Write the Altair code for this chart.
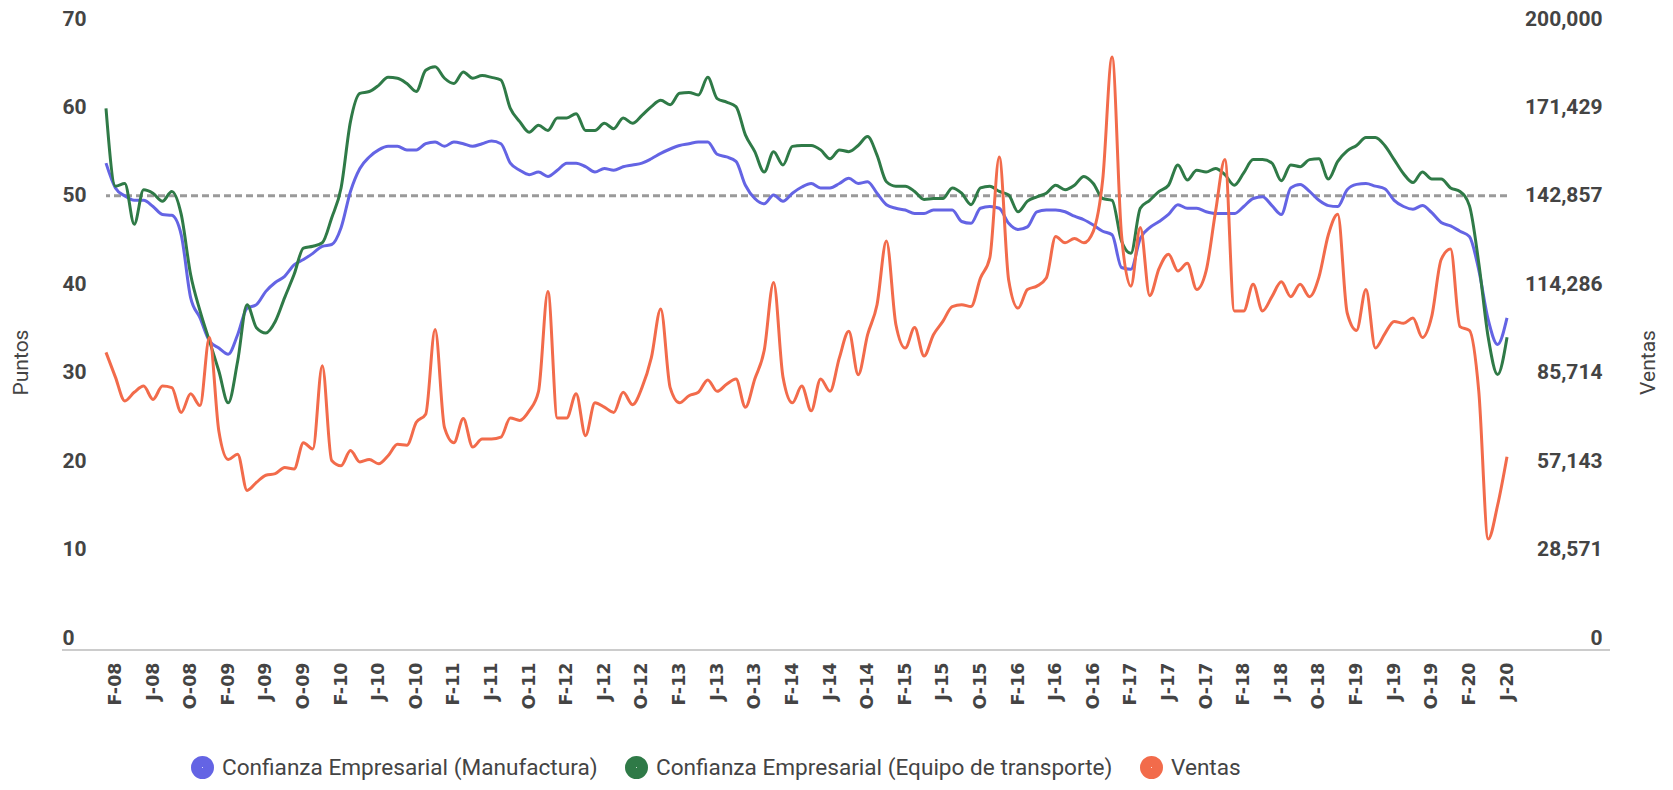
import altair as alt
import pandas as pd

# Monthly series, Jan-2008 .. Jun-2020 (150 months)
manufactura = [
    53.7, 50.9, 50.0, 49.5, 49.5, 48.8, 47.9, 47.8, 45.6, 38.5, 36.2, 33.6,
    32.8, 32.1, 34.3, 37.3, 37.7, 39.2, 40.2, 40.9, 42.2, 42.8, 43.5, 44.3,
    44.5, 46.4, 50.5, 53.1, 54.4, 55.2, 55.6, 55.6, 55.2, 55.2, 55.9, 56.1,
    55.6, 56.1, 55.9, 55.6, 55.9, 56.2, 55.9, 53.7, 52.9, 52.4, 52.7, 52.2,
    52.9, 53.7, 53.7, 53.3, 52.7, 53.1, 52.9, 53.3, 53.5, 53.7, 54.2, 54.8,
    55.3, 55.7, 55.9, 56.1, 56.1, 54.7, 54.4, 53.9, 51.2, 49.7, 49.1, 50.1,
    49.4, 50.3, 51.0, 51.4, 50.9, 50.9, 51.4, 52.0, 51.4, 51.6, 50.3, 49.0,
    48.6, 48.4, 48.0, 48.0, 48.4, 48.4, 48.4, 47.1, 46.9, 48.6, 48.8, 48.6,
    46.9, 46.2, 46.5, 48.2, 48.4, 48.4, 48.2, 47.7, 47.3, 46.7, 46.0, 45.6,
    41.9, 41.7, 45.2, 46.4, 47.1, 47.9, 49.0, 48.6, 48.6, 48.2, 48.0, 48.0,
    48.0, 48.8, 49.7, 49.9, 48.9, 47.9, 50.9, 51.3, 50.5, 49.5, 48.9, 48.8,
    50.7, 51.3, 51.4, 51.1, 50.8, 49.5, 48.8, 48.5, 48.9, 48.1, 47.0, 46.6,
    46.0, 45.4, 41.6, 36.0, 33.2, 36.2,
]
transporte = [
    59.9, 51.1, 51.4, 46.8, 50.7, 50.3, 49.4, 50.5, 47.9, 41.1, 37.0, 33.6,
    30.2, 26.6, 31.3, 37.7, 35.1, 34.5, 35.8, 38.5, 41.1, 44.1, 44.3, 44.7,
    47.5, 50.9, 58.4, 61.6, 61.8, 62.5, 63.4, 63.3, 62.7, 61.8, 64.2, 64.6,
    63.3, 62.7, 64.0, 63.3, 63.6, 63.4, 63.1, 59.9, 58.4, 57.2, 58.0, 57.4,
    58.8, 58.8, 59.3, 57.4, 57.4, 58.2, 57.6, 58.8, 58.2, 59.1, 60.1, 60.8,
    60.3, 61.6, 61.7, 61.4, 63.4, 61.0, 60.6, 60.1, 56.9, 55.0, 52.7, 55.0,
    53.5, 55.6, 55.7, 55.7, 55.2, 54.2, 55.2, 55.0, 55.7, 56.7, 54.6, 51.6,
    51.1, 51.1, 50.5, 49.6, 49.7, 49.7, 50.9, 50.3, 49.0, 50.9, 51.1, 50.5,
    50.1, 48.2, 49.4, 49.9, 50.3, 51.2, 50.7, 51.2, 52.2, 51.4, 49.7, 49.5,
    44.9, 43.5, 48.6, 49.5, 50.5, 51.2, 53.5, 51.8, 52.9, 52.7, 53.1, 52.4,
    51.2, 52.6, 54.1, 54.1, 53.7, 51.7, 53.5, 53.3, 54.1, 54.2, 51.9, 53.9,
    55.1, 55.7, 56.6, 56.6, 55.7, 54.1, 52.5, 51.5, 52.7, 51.9, 51.9, 50.9,
    50.5, 48.9, 42.4, 34.0, 29.8, 34.0,
]
ventas = [
    92300, 84300, 76600, 79400, 81400, 77100, 81400, 80900, 72900, 78900, 75100, 97100,
    66900, 57700, 59400, 47700, 50300, 52600, 53100, 55100, 54600, 63100, 61100, 88000,
    57400, 55700, 60600, 56900, 57700, 56300, 58900, 62600, 62300, 69700, 72300, 99700,
    68000, 63100, 70900, 61700, 64300, 64300, 64900, 71100, 70300, 73400, 79700, 112000,
    71100, 71100, 78900, 65400, 76000, 74600, 72900, 79400, 75400, 80900, 90600, 106300,
    80900, 76000, 78300, 79400, 83400, 79700, 82000, 83700, 74600, 83700, 92900, 114900,
    84300, 76000, 81400, 73400, 83700, 79700, 90600, 99100, 85100, 98000, 107700, 128300,
    101400, 93700, 100300, 91100, 98000, 102300, 107100, 107700, 107100, 116300, 122900, 155400,
    115700, 106600, 112600, 113700, 116300, 129700, 127700, 129100, 127700, 131400, 148000, 187700,
    130300, 113700, 132600, 110600, 119400, 124000, 118600, 121100, 112600, 118600, 137700, 154600,
    105700, 105700, 114300, 105700, 110300, 115100, 110300, 114300, 110300, 116600, 130300, 136900,
    105100, 99400, 112600, 93700, 98300, 102300, 101700, 103400, 97100, 104000, 122300, 125700,
    100600, 99400, 79700, 32000, 42900, 58600,
]
etiquetas = [
    "F-08", "J-08", "O-08", "F-09", "J-09", "O-09", "F-10", "J-10", "O-10",
    "F-11", "J-11", "O-11", "F-12", "J-12", "O-12", "F-13", "J-13", "O-13",
    "F-14", "J-14", "O-14", "F-15", "J-15", "O-15", "F-16", "J-16", "O-16",
    "F-17", "J-17", "O-17", "F-18", "J-18", "O-18", "F-19", "J-19", "O-19",
    "F-20", "J-20",
]
series = [
    "Confianza Empresarial (Manufactura)",
    "Confianza Empresarial (Equipo de transporte)",
    "Ventas",
]
colores = ["#6464e4", "#2f7a47", "#f26b4b"]
ventas_ticks = [0, 28571.43, 57142.86, 85714.29, 114285.71, 142857.14, 171428.57, 200000]

n = len(ventas)
df_conf = pd.DataFrame({
    "mes": list(range(n)) * 2,
    "valor": manufactura + transporte,
    "serie": [series[0]] * n + [series[1]] * n,
})
df_ven = pd.DataFrame({"mes": list(range(n)), "ventas": ventas, "serie": [series[2]] * n})

W, H = 1401, 631
YMIN = -1.35
FONT = "Roboto"
TXT = "#444444"

label_expr = "[" + ",".join("'%s'" % e for e in etiquetas) + "][(datum.value - 1) / 4]"
x_enc = alt.X(
    "mes:Q",
    scale=alt.Scale(domain=[0, n - 1], nice=False, zero=False),
    axis=alt.Axis(
        values=[1 + 4 * k for k in range(len(etiquetas))],
        labelExpr=label_expr,
        labelAngle=270,
        labelFont="DejaVu Sans", labelFontSize=17.5, labelFontWeight="bold", labelColor=TXT,
        labelPadding=12, ticks=False, tickSize=0, domain=False, grid=False, title=None,
        labelOverlap=False,
    ),
)
color_scale = alt.Scale(domain=series, range=colores)

y_left = alt.Y(
    "valor:Q",
    scale=alt.Scale(domain=[YMIN, 70], nice=False, zero=False),
    axis=alt.Axis(
        values=[0, 10, 20, 30, 40, 50, 60, 70], orient="left",
        labelAlign="left", labelPadding=44, ticks=False, tickSize=0, domain=False, grid=False,
        labelFont=FONT, labelFontSize=21, labelFontWeight="bold", labelColor=TXT,
        title="Puntos", titleFont=FONT, titleFontSize=21, titleFontWeight="normal", titleColor=TXT,
        titleAngle=270, titleX=-85, titleY=343, titleAlign="center", titleBaseline="middle",
    ),
)

lineas = alt.Chart(df_conf).mark_line(strokeWidth=3, interpolate="monotone").encode(
    x=x_enc, y=y_left,
    color=alt.Color("serie:N", scale=color_scale),
)
umbral = alt.Chart(pd.DataFrame({"valor": [50]})).mark_rule(
    color="#9a9a9a", strokeWidth=3, strokeDash=[7, 4]
).encode(y=alt.Y("valor:Q"))
base_line = alt.Chart(pd.DataFrame({"valor": [YMIN]})).mark_rule(
    color="#cccccc", strokeWidth=2
).encode(y=alt.value(H), x=alt.value(-44), x2=alt.value(W + 103))

izq = alt.layer(base_line, umbral, lineas)

der = alt.Chart(df_ven).mark_line(strokeWidth=3, interpolate="monotone").encode(
    x=x_enc,
    y=alt.Y(
        "ventas:Q",
        scale=alt.Scale(domain=[YMIN * 200000 / 70, 200000], nice=False, zero=False),
        axis=alt.Axis(
            values=ventas_ticks, format=",.0f", orient="right",
            labelAlign="right", labelPadding=95, ticks=False, tickSize=0, domain=False, grid=False,
            labelFont=FONT, labelFontSize=21, labelFontWeight="bold", labelColor=TXT,
            title="Ventas", titleFont=FONT, titleFontSize=21, titleFontWeight="normal", titleColor=TXT,
            titleAngle=270, titleX=141, titleY=343, titleAlign="center", titleBaseline="middle",
        ),
    ),
    color=alt.Color(
        "serie:N", scale=color_scale,
        legend=alt.Legend(
            orient="none", legendX=85, legendY=737, direction="horizontal", title=None,
            symbolType="circle", symbolSize=121, symbolStrokeWidth=12, symbolOpacity=1,
            labelFont=FONT, labelFontSize=22.6, labelColor=TXT, labelOffset=8,
            columnPadding=9, labelLimit=700,
        ),
    ),
)

chart = alt.layer(izq, der).resolve_scale(y="independent").properties(
    width=W, height=H,
    autosize=alt.AutoSizeParams(type="none"),
    padding={"left": 98, "top": 11, "right": 158, "bottom": 140},
).configure_view(stroke=None)

chart.save("out.html", embed_options={"renderer": "svg", "actions": False})
